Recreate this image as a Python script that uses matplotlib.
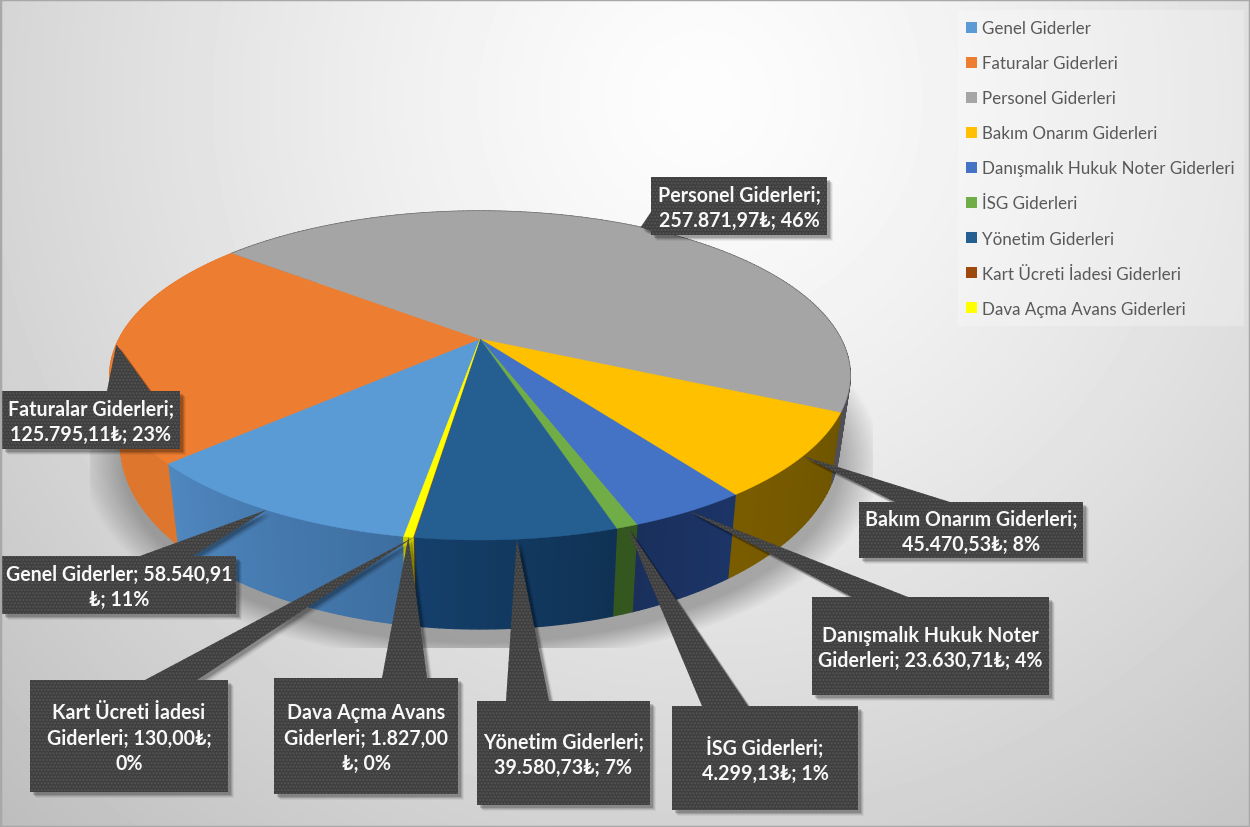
import numpy as np
import matplotlib
matplotlib.use("Agg")
import matplotlib.pyplot as plt
from matplotlib.patches import Polygon, Rectangle
from matplotlib.colors import to_rgb

# data
categories = ["Genel Giderler", "Faturalar Giderleri", "Personel Giderleri",
              "Bakım Onarım Giderleri", "Danışmalık Hukuk Noter Giderleri",
              "İSG Giderleri", "Yönetim Giderleri", "Kart Ücreti İadesi Giderleri",
              "Dava Açma Avans Giderleri"]
values = [58540.91, 125795.11, 257871.97, 45470.53, 23630.71, 4299.13, 39580.73, 130.00, 1827.00]
label_texts = ["Genel Giderler; 58.540,91\n₺; 11%",
               "Faturalar Giderleri;\n125.795,11₺; 23%",
               "Personel Giderleri;\n257.871,97₺; 46%",
               "Bakım Onarım Giderleri;\n45.470,53₺; 8%",
               "Danışmalık Hukuk Noter\nGiderleri; 23.630,71₺; 4%",
               "İSG Giderleri;\n4.299,13₺; 1%",
               "Yönetim Giderleri;\n39.580,73₺; 7%",
               "Kart Ücreti İadesi\nGiderleri; 130,00₺;\n0%",
               "Dava Açma Avans\nGiderleri; 1.827,00\n₺; 0%"]

# styles
colors = ["#5B9BD5", "#ED7D31", "#A5A5A5", "#FFC000", "#4472C4", "#70AD47", "#255E91", "#9E480E", "#FFFF00"]
wall_start = ["#3d6ea0", "#de762d", "#4f4f55", "#6f5500", "#1c3567", "#34561f", "#0f3254", "#7a370a", "#c8c800"]
wall_end = ["#4f87bf", "#e0782f", "#4f4f55", "#7a5c00", "#1a2f5c", "#34561f", "#15406b", "#7a370a", "#c8c800"]

# label boxes: x0, x1, y0, y1 and the two tail base points
label_boxes = [(2, 236, 557, 615), (2, 180, 392, 450), (651, 827, 178, 236),
               (859, 1083, 503, 559), (812, 1049, 598, 696), (672, 858, 707, 811),
               (477, 650, 702, 806), (30, 228, 681, 793), (274, 458, 679, 795)]
tail_bases = [((140, 557), (193, 557)), ((107, 392), (150, 392)), ((651, 213), (651, 232)),
              ((895, 503), (950, 503)), ((852, 598), (908, 598)), ((702, 707), (748, 707)),
              ((506, 702), (549, 702)), ((145, 681), (197, 681)), ((382, 679), (427, 679))]

first_slice = 189.5
FONT = ["Lato", "DejaVu Sans"]


def project(phi):
    # circle angle (clockwise from 12 o'clock) to the tilted pie top, in pixels
    phi = np.radians(phi)
    u, v = np.sin(phi), -np.cos(phi)
    den = 1 - 0.222 * v
    return 480 + 361 * u / den, 340 + 156.4 * v / den


def lower(x, y):
    # same rim point on the bottom of the pie
    return 481 + (x - 481) * 0.97, y * 1.115 + 26.7


def mix(c0, c1, t):
    return tuple(np.array(to_rgb(c0)) * (1 - t) + np.array(to_rgb(c1)) * t)


fig = plt.figure(figsize=(12.5, 8.28), dpi=100)
ax = fig.add_axes([0, 0, 1, 1])

# background
yy, xx = np.mgrid[0:828, 0:1250]
r = np.hypot(xx - 700, yy - 100)
bg = 253 - 62 * (r / 984) ** 1.3
ax.imshow(bg, cmap="gray", vmin=0, vmax=255, extent=(0, 1250, 828, 0), aspect="auto", zorder=0)

# soft shadow under the pie, cut off by its box
d = (np.sqrt(((xx - 481) / 359.0) ** 2 + ((yy - 460) / 183.0) ** 2) - 1) * 270
shadow = np.zeros((828, 1250, 4))
shadow[..., 3] = np.clip(0.28 - d / 110, 0, 0.28)
shadow[(xx < 90) | (xx > 872) | (yy > 648), 3] = 0
ax.imshow(shadow, extent=(0, 1250, 828, 0), aspect="auto", zorder=1)

shares = np.array(values) / sum(values) * 360
starts = first_slice + np.concatenate([[0], np.cumsum(shares)[:-1]])

# side walls
for start, share, c0, c1 in zip(starts, shares, wall_start, wall_end):
    n = max(int(share / 1.0), 1)
    edges = np.linspace(start, start + share, n + 1)
    for i in range(n):
        xa, ya = project(np.array([edges[i], edges[i + 1]]))
        xb, yb = lower(xa, ya)
        col = mix(c0, c1, (i + 0.5) / n)
        ax.fill([xa[0], xa[1], xb[1], xb[0]], [ya[0], ya[1], yb[1], yb[0]],
                color=col, lw=1, zorder=2)

# top of the pie
for start, share, col in zip(starts, shares, colors):
    rim = np.linspace(start, start + share, max(int(share), 2) + 1)
    x, y = project(rim)
    ax.fill(np.r_[480, x], np.r_[340, y], color=col, lw=0.3, zorder=3)

# callouts
for (x0, x1, y0, y1), base, start, share in zip(label_boxes, tail_bases, starts, shares):
    tx, ty = project(start + share / 2)
    tail = [base[0], (tx, ty), base[1]]
    for off, alpha in [(6, 0.05), (5, 0.08), (4, 0.12), (3, 0.16)]:
        ax.add_patch(Rectangle((x0 + off, y0 + off), x1 - x0, y1 - y0, fc="black", ec="none", alpha=alpha, zorder=4))
        ax.add_patch(Polygon([(px + off, py + off) for px, py in tail], fc="black", ec="none", alpha=alpha, zorder=4))
for (x0, x1, y0, y1), base, start, share, text in zip(label_boxes, tail_bases, starts, shares, label_texts):
    tx, ty = project(start + share / 2)
    tail = [base[0], (tx, ty), base[1]]
    ax.add_patch(Polygon(tail, fc="#3f3f3f", ec="#555555", lw=0, hatch=".....", zorder=5))
    ax.add_patch(Rectangle((x0, y0), x1 - x0, y1 - y0, fc="#3f3f3f", ec="#555555", lw=0, hatch=".....", zorder=6))
    ax.text((x0 + x1) / 2, (y0 + y1) / 2 + 1.5, text, color="#f8f8f8", fontsize=14.1, fontweight="bold",
            family=FONT, ha="center", va="center", linespacing=1.32, zorder=7)

# legend
ax.add_patch(Rectangle((958, 11), 286, 316, fc="white", ec="none", alpha=0.25, zorder=2))
for i, (name, col) in enumerate(zip(categories, colors)):
    yc = 28 + i * 35.1
    ax.add_patch(Rectangle((966, yc - 5.5), 11, 11, fc=col, ec="none", zorder=3))
    ax.text(982, yc + 1, name, color="#595959", fontsize=12.25, family=FONT, va="center", ha="left", zorder=3)

# frame
ax.add_patch(Rectangle((0, 0), 1250, 828, fc="none", ec="#a8a8a8", lw=2.5, zorder=8))

ax.set_xlim(0, 1250)
ax.set_ylim(828, 0)
ax.axis("off")

fig.savefig("out.png", dpi=100)
